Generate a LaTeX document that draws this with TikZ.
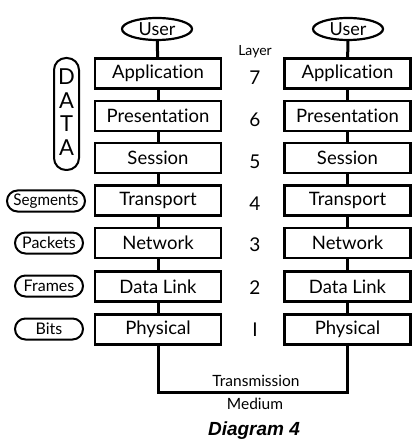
\documentclass[tikz,border=0pt]{standalone}
\usepackage{fontspec}
\setmainfont{Lato}[Ligatures=NoCommon]
\newfontfamily\capfont{Liberation Sans}
\usetikzlibrary{shapes.misc,shapes.geometric}
\tikzset{
  layerbox/.style={draw, line width=2.3pt, minimum width=126pt, minimum height=30pt, inner sep=0pt, font=\fontsize{18.5}{18.5}\selectfont},
  userell/.style={draw, ellipse, line width=2.2pt, minimum width=70pt, minimum height=22pt, inner sep=0pt, font=\fontsize{18}{18}\selectfont},
  pill/.style={draw, rounded rectangle, line width=2pt, minimum height=21pt, inner sep=0pt, font=\fontsize{16}{16}\selectfont},
  link/.style={line width=3pt},
  num/.style={font=\fontsize{19}{19}\selectfont, inner sep=0pt},
  plain/.style={inner sep=0pt, font=\fontsize{15.5}{15.5}\selectfont}
}
\begin{document}
\begin{tikzpicture}[x=1pt,y=-1pt]
\useasboundingbox (0,0) rectangle (411,443);
% left stack
\node[userell] (uL) at (157,29) {User};
\node[layerbox] (aL) at (158,73.5) {Application};
\node[layerbox] (pL) at (158,116) {Presentation};
\node[layerbox] (sL) at (158,158) {Session};
\node[layerbox] (tL) at (158,200.5) {Transport};
\node[layerbox] (nL) at (158,243) {Network};
\node[layerbox] (dL) at (158,286.5) {Data Link};
\node[layerbox] (yL) at (158,329.5) {Physical};
% right stack
\node[userell] (uR) at (348,29) {User};
\node[layerbox] (aR) at (347.5,73.5) {Application};
\node[layerbox] (pR) at (347.5,116) {Presentation};
\node[layerbox] (sR) at (347.5,158) {Session};
\node[layerbox] (tR) at (347.5,200.5) {Transport};
\node[layerbox] (nR) at (347.5,243) {Network};
\node[layerbox] (dR) at (347.5,286.5) {Data Link};
\node[layerbox] (yR) at (347.5,329.5) {Physical};
% connectors
\foreach \s in {L,R}{
  \draw[link] (u\s) -- (a\s);
  \draw[link] (a\s) -- (p\s);
  \draw[link] (p\s) -- (s\s);
  \draw[link] (s\s) -- (t\s);
  \draw[link] (t\s) -- (n\s);
  \draw[link] (n\s) -- (d\s);
  \draw[link] (d\s) -- (y\s);
}
\coordinate (m1) at (158,392);
\coordinate (m2) at (347.5,392);
\draw[link] (yL.south) -- (m1) -- (m2) -- (yR.south);
% layer numbers
\node[plain, font=\fontsize{14}{14}\selectfont] (lay) at (255,52) {Layer};
\node[num] (n7) at (255,78) {7};
\node[num] (n6) at (255,120) {6};
\node[num] (n5) at (255,162) {5};
\node[num] (n4) at (255,204) {4};
\node[num] (n3) at (255,245) {3};
\node[num] (n2) at (255,288) {2};
\node[num] (n1) at (255,330) {I};
% left labels
\node[draw, line width=2pt, rounded corners=12pt, minimum width=25pt, minimum height=112pt, inner sep=0pt] (data) at (66.5,114) {};
\node[inner sep=0pt, font=\fontsize{22}{22}\selectfont] (dD) at (66.5,77) {D};
\node[inner sep=0pt, font=\fontsize{22}{22}\selectfont] (dA1) at (66.5,100.5) {A};
\node[inner sep=0pt, font=\fontsize{22}{22}\selectfont] (dT) at (66.5,124) {T};
\node[inner sep=0pt, font=\fontsize{22}{22}\selectfont] (dA2) at (66.5,147.5) {A};
\node[pill, minimum width=78pt] (seg) at (46,201) {\scalebox{0.95}[1]{Segments}};
\node[pill, minimum width=68pt] (pak) at (49,243) {Packets};
\node[pill, minimum width=68pt] (frm) at (49,286) {Frames};
\node[pill, minimum width=68pt] (bit) at (49,329) {Bits};
% medium labels
\node[plain] (trans) at (256,381) {Transmission};
\node[plain] (med) at (255,404) {Medium};
\node[inner sep=0pt, font=\capfont\bfseries\itshape\fontsize{19}{19}\selectfont] (cap) at (254,431) {Diagram 4};
\end{tikzpicture}
\end{document}
